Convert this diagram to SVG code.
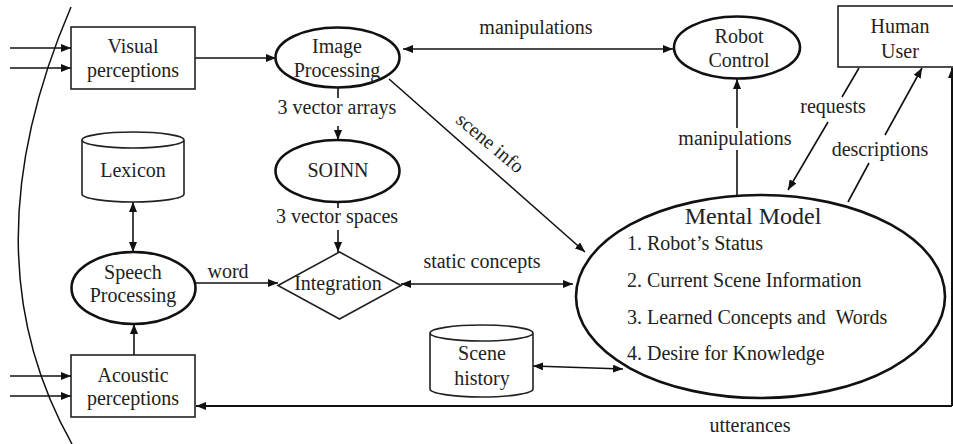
<svg xmlns="http://www.w3.org/2000/svg" width="953" height="444" viewBox="0 0 953 444">
<defs>
<marker id="ah" viewBox="0 0 10 8" refX="10" refY="4" markerWidth="10" markerHeight="8" markerUnits="userSpaceOnUse" orient="auto-start-reverse">
<path d="M0,0 L10,4 L0,8 Z" fill="#111"/>
</marker>
</defs>
<style>
text{font-family:"Liberation Serif","Times New Roman",serif;font-size:20px;fill:#222;text-anchor:middle}
.l{text-anchor:start}
.big{font-size:24px}
.box{fill:#fff;stroke:#222;stroke-width:1.6}
.ell{fill:#fff;stroke:#111;stroke-width:2.6}
.c line,.c path{stroke:#111;stroke-width:1.6;fill:none}
.a{marker-end:url(#ah)}
.d{marker-start:url(#ah);marker-end:url(#ah)}
</style>
<rect width="953" height="444" fill="#fff"/>
<path d="M71,7 Q-35,254 72,444" fill="none" stroke="#111" stroke-width="1.5"/>
<g class="c" id="connectors">
<line class="a" x1="10" y1="48" x2="71" y2="48"/>
<line class="a" x1="10" y1="68" x2="71" y2="68"/>
<line class="a" x1="10" y1="376" x2="71" y2="376"/>
<line class="a" x1="10" y1="396" x2="71" y2="396"/>
<line class="a" x1="195" y1="58" x2="276" y2="58"/>
<line class="d" x1="403" y1="49" x2="673" y2="49"/>
<line x1="338" y1="88" x2="338" y2="98"/>
<line class="a" x1="338" y1="126" x2="338" y2="140"/>
<line x1="338" y1="202" x2="338" y2="208"/>
<line class="a" x1="338" y1="230" x2="338" y2="252"/>
<line class="a" x1="389" y1="79" x2="585" y2="252"/>
<line class="d" x1="133" y1="202" x2="133" y2="252"/>
<line class="a" x1="134" y1="355" x2="134" y2="324"/>
<line class="a" x1="196" y1="283" x2="278" y2="283"/>
<line class="d" x1="401" y1="284" x2="573" y2="284"/>
<line class="d" x1="533" y1="366" x2="623" y2="369"/>
<line x1="737" y1="195" x2="737" y2="150"/>
<line class="a" x1="737" y1="128" x2="737" y2="79"/>
<line x1="859" y1="68" x2="842" y2="97"/>
<line class="a" x1="828" y1="122" x2="788" y2="190"/>
<line x1="848" y1="202" x2="869" y2="163"/>
<line class="a" x1="885" y1="135" x2="922" y2="68"/>
<path class="a" d="M952,406 L952,68" style="stroke-width:2"/>
<line class="a" x1="952" y1="406" x2="196" y2="406" style="stroke-width:2.2"/>
</g>
<g id="visual"><rect class="box" x="71" y="27" width="124" height="62"/><text x="133" y="53">Visual</text><text x="133" y="77">perceptions</text></g>
<g id="image"><ellipse class="ell" cx="337.5" cy="57.5" rx="62" ry="30"/><text x="337" y="53">Image</text><text x="337" y="77">Processing</text></g>
<g id="robot"><ellipse class="ell" cx="737" cy="47.5" rx="63" ry="31"/><text x="739" y="43">Robot</text><text x="739" y="67">Control</text></g>
<g id="human"><rect class="box" x="838" y="6" width="118" height="61"/><text x="900" y="33">Human</text><text x="900" y="58">User</text></g>
<g id="soinn"><ellipse class="ell" cx="337.5" cy="171" rx="62" ry="31"/><text x="338" y="177">SOINN</text></g>
<g id="integration"><path class="box" d="M278,285.5 L339.5,252 L401,285.5 L339.5,319 Z"/><text x="338" y="290">Integration</text></g>
<g id="lexicon"><path class="box" d="M82,140 A51,8 0 0 1 184,140 L184,194 A51,8 0 0 1 82,194 Z M82,140 A51,8 0 0 0 184,140"/><text x="133" y="177">Lexicon</text></g>
<g id="speech"><ellipse class="ell" cx="133.5" cy="288" rx="62" ry="36"/><text x="133" y="279">Speech</text><text x="133" y="302">Processing</text></g>
<g id="acoustic"><rect class="box" x="71" y="355" width="124" height="62"/><text x="133" y="382">Acoustic</text><text x="133" y="405">perceptions</text></g>
<g id="scenehistory"><path class="box" d="M430,333 A51.5,8 0 0 1 533,333 L533,389 A51.5,8 0 0 1 430,389 Z M430,333 A51.5,8 0 0 0 533,333"/><text x="482" y="360">Scene</text><text x="482" y="385">history</text></g>
<g id="mental"><ellipse class="ell" cx="760.5" cy="296.5" rx="184.5" ry="101.5"/>
<text class="big" x="753" y="224">Mental Model</text>
<text class="l" x="627" y="250">1. Robot’s Status</text>
<text class="l" x="627" y="287">2. Current Scene Information</text>
<text class="l" x="627" y="324" xml:space="preserve">3. Learned Concepts and  Words</text>
<text class="l" x="627" y="360">4. Desire for Knowledge</text></g>
<g id="labels">
<text x="536" y="34">manipulations</text>
<text x="337" y="114">3 vector arrays</text>
<text x="337" y="223">3 vector spaces</text>
<text transform="translate(486,148) rotate(40)">scene info</text>
<text x="228" y="278">word</text>
<text x="482" y="268">static concepts</text>
<text x="735" y="145">manipulations</text>
<text x="833" y="113">requests</text>
<text x="880" y="156">descriptions</text>
<text x="750" y="432">utterances</text>
</g>
</svg>
